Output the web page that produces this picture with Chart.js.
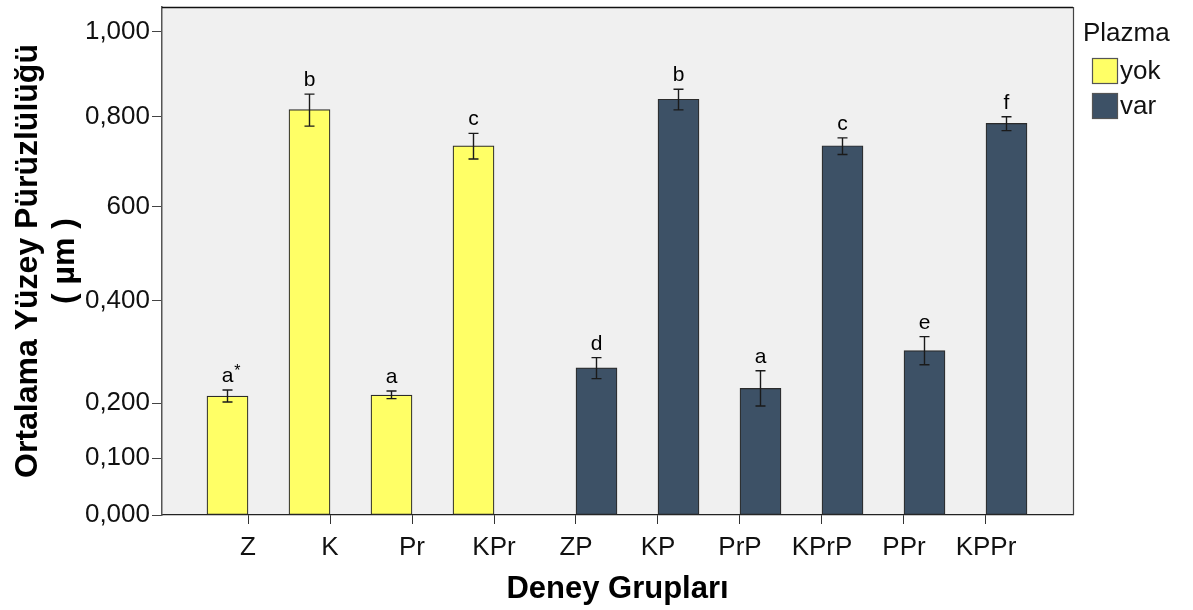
<!DOCTYPE html>
<html>
<head>
<meta charset="utf-8">
<script src="https://cdn.jsdelivr.net/npm/chart.js@4/dist/chart.umd.min.js"></script>
<style>
html,body{margin:0;padding:0;background:#fff;}
#wrap{width:1193px;height:610px;position:relative;}
</style>
</head>
<body>
<div id="wrap"><canvas id="c" width="1193" height="610"></canvas></div>
<script>
// ---- data ----
const categories = ['Z','K','Pr','KPr','ZP','KP','PrP','KPrP','PPr','KPPr'];
const plasmaGroup = ['yok','yok','yok','yok','var','var','var','var','var','var'];
const meanValues = [0.214, 0.8165, 0.216, 0.735, 0.269, 0.841, 0.229, 0.7355, 0.3025, 0.785];
const errUpper   = [0.226, 0.853, 0.224, 0.763, 0.289, 0.8645, 0.2635, 0.753, 0.330, 0.800];
const errLower   = [0.2025, 0.779, 0.209, 0.706, 0.248, 0.816, 0.195, 0.716, 0.275, 0.769];
const letters    = ['a*','b','a','c','d','b','a','c','e','f'];
const seriesNames = ['yok','var'];
const yTickValues = [0, 0.1, 0.2, 0.4, 0.6, 0.8, 1.0];
const yTickLabels = ['0,000','0,100','0,200','0,400','600','0,800','1,000'];

const FONT = '"Liberation Sans", Arial, sans-serif';
const seriesColors = ['#FFFF66', '#3D5166'];

// ---- custom piecewise-linear (warped) value scale ----
class WarpScale extends Chart.LinearScale {
  static id = 'warp';
  static defaults = {};
  _warp(v) {
    const bv = this.options.breakValues, bf = this.options.breakFractions;
    if (v <= bv[0]) return bf[0];
    for (let i = 1; i < bv.length; i++) {
      if (v <= bv[i]) {
        const t = (v - bv[i-1]) / (bv[i] - bv[i-1]);
        return bf[i-1] + t * (bf[i] - bf[i-1]);
      }
    }
    return bf[bf.length-1];
  }
  _unwarp(f) {
    const bv = this.options.breakValues, bf = this.options.breakFractions;
    for (let i = 1; i < bf.length; i++) {
      if (f <= bf[i]) {
        const t = (f - bf[i-1]) / (bf[i] - bf[i-1]);
        return bv[i-1] + t * (bv[i] - bv[i-1]);
      }
    }
    return bv[bv.length-1];
  }
  getPixelForValue(value) {
    if (value === null || value === undefined || isNaN(value)) return NaN;
    return this.getPixelForDecimal(this._warp(value));
  }
  getValueForPixel(pixel) {
    return this._unwarp(this.getDecimalForPixel(pixel));
  }
}
Chart.register(WarpScale);

// ---- datasets built from the arrays ----
const datasets = seriesNames.map((name, s) => ({
  label: name,
  data: categories
    .map((c, i) => plasmaGroup[i] === name ? { x: i + 1, y: meanValues[i] } : null)
    .filter(p => p !== null),
  backgroundColor: seriesColors[s],
  borderColor: '#2b2b2b',
  borderWidth: 1.2,
  borderSkipped: false,
  categoryPercentage: 1.0,
  barPercentage: 1.0
}));

// ---- plugins ----
const plotBg = {
  id: 'plotBg',
  beforeDraw(chart) {
    const { ctx, chartArea: a } = chart;
    ctx.save();
    ctx.fillStyle = '#F0F0F0';
    ctx.fillRect(a.left, a.top, a.right - a.left, a.bottom - a.top);
    ctx.restore();
  },
  afterDraw(chart) {
    const { ctx, chartArea: a } = chart;
    ctx.save();
    ctx.strokeStyle = '#111';
    ctx.lineWidth = 1.5;
    ctx.beginPath();
    ctx.moveTo(a.left, a.top + 0.5);
    ctx.lineTo(a.right, a.top + 0.5);
    ctx.stroke();
    ctx.strokeStyle = '#444';
    ctx.lineWidth = 1.2;
    ctx.beginPath();
    ctx.moveTo(a.right + 0.5, a.top);
    ctx.lineTo(a.right + 0.5, a.bottom);
    ctx.stroke();
    ctx.restore();
  }
};

const errorBars = {
  id: 'errorBars',
  afterDatasetsDraw(chart) {
    const { ctx } = chart;
    const ys = chart.scales.y;
    chart.data.datasets.forEach((ds, di) => {
      const meta = chart.getDatasetMeta(di);
      meta.data.forEach((bar, j) => {
        const idx = ds.data[j].x - 1;
        const x = bar.x;
        const yt = ys.getPixelForValue(errUpper[idx]);
        const yb = ys.getPixelForValue(errLower[idx]);
        ctx.save();
        ctx.strokeStyle = '#1a1a1a';
        ctx.lineWidth = 1.4;
        ctx.beginPath();
        ctx.moveTo(x, yt); ctx.lineTo(x, yb);
        ctx.moveTo(x - 5, yt); ctx.lineTo(x + 5, yt);
        ctx.moveTo(x - 5, yb); ctx.lineTo(x + 5, yb);
        ctx.stroke();
        // significance letter
        const L = letters[idx];
        ctx.fillStyle = '#000';
        ctx.font = '21px ' + FONT;
        ctx.textAlign = 'center';
        ctx.textBaseline = 'alphabetic';
        const base = L.charAt(0);
        ctx.fillText(base, x, yt - 8);
        if (L.length > 1) {
          const w = ctx.measureText(base).width;
          ctx.font = '16px ' + FONT;
          ctx.textAlign = 'left';
          ctx.fillText(L.slice(1), x + w / 2 + 1, yt - 14);
        }
        ctx.restore();
      });
    });
  }
};

const legendBox = {
  id: 'legendBox',
  afterDraw(chart) {
    const { ctx } = chart;
    ctx.save();
    ctx.fillStyle = '#111';
    ctx.font = '26px ' + FONT;
    ctx.textAlign = 'left';
    ctx.textBaseline = 'middle';
    ctx.fillText('Plazma', 1083, 34);
    chart.data.datasets.forEach((ds, i) => {
      const by = 58 + i * 35;
      ctx.fillStyle = ds.backgroundColor;
      ctx.fillRect(1092, by, 25, 25);
      ctx.strokeStyle = '#555';
      ctx.lineWidth = 1.2;
      ctx.strokeRect(1092.5, by + 0.5, 25, 25);
      ctx.fillStyle = '#111';
      ctx.fillText(ds.label, 1120, by + 14);
    });
    ctx.restore();
  }
};

new Chart(document.getElementById('c'), {
  type: 'bar',
  data: { datasets },
  options: {
    responsive: false,
    animation: false,
    events: [],
    layout: { padding: { top: 7, right: 120, bottom: 0, left: 0 } },
    plugins: { legend: { display: false }, tooltip: { enabled: false } },
    scales: {
      x: {
        type: 'linear',
        min: -0.0488,
        max: 11.061,
        offset: false,
        grid: { display: true, drawOnChartArea: false, drawTicks: true, tickLength: 9, color: '#333', offset: false },
        border: { display: true, color: '#222', width: 1.2 },
        afterBuildTicks(scale) {
          scale.ticks = categories.map((c, i) => ({ value: i + 1 }));
        },
        ticks: {
          autoSkip: false,
          maxRotation: 0,
          padding: 8,
          color: '#111',
          font: { family: FONT, size: 26 },
          callback: (v) => categories[Math.round(v) - 1] || ''
        },
        title: {
          display: true,
          text: 'Deney Grupları',
          color: '#000',
          font: { family: FONT, size: 31, weight: 'bold', lineHeight: 1.2 },
          padding: { top: 0, bottom: 2 }
        },
        afterFit(scale) {
          scale.height = 95;
          scale.paddingLeft = 0;
          scale.paddingRight = 0;
        }
      },
      y: {
        type: 'warp',
        min: 0,
        max: 1.058,
        breakValues:    [0, 0.1, 0.2, 0.4, 0.6, 0.8, 1.0, 1.058],
        breakFractions: [0, 0.1116, 0.2199, 0.4219, 0.6069, 0.7841, 0.9514, 1],
        grid: { display: true, drawOnChartArea: false, drawTicks: true, tickLength: 10, color: '#444' },
        border: { display: true, color: '#555', width: 1.5 },
        afterBuildTicks(scale) {
          scale.ticks = yTickValues.map(v => ({ value: v }));
        },
        ticks: {
          autoSkip: false,
          padding: 2,
          color: '#111',
          font: { family: FONT, size: 26 },
          callback: (v) => {
            const k = yTickValues.findIndex(t => Math.abs(t - v) < 1e-9);
            return k >= 0 ? yTickLabels[k] : '';
          }
        },
        title: {
          display: true,
          text: ['Ortalama Yüzey Pürüzlülüğü', '( µm )'],
          color: '#000',
          font: { family: FONT, size: 32, weight: 'bold', lineHeight: 1.15 },
          padding: { top: 10, bottom: 0 }
        },
        afterFit(scale) {
          scale.width = 162;
          scale.paddingTop = 0;
          scale.paddingBottom = 0;
        }
      }
    }
  },
  plugins: [plotBg, errorBars, legendBox]
});
</script>
</body>
</html>
